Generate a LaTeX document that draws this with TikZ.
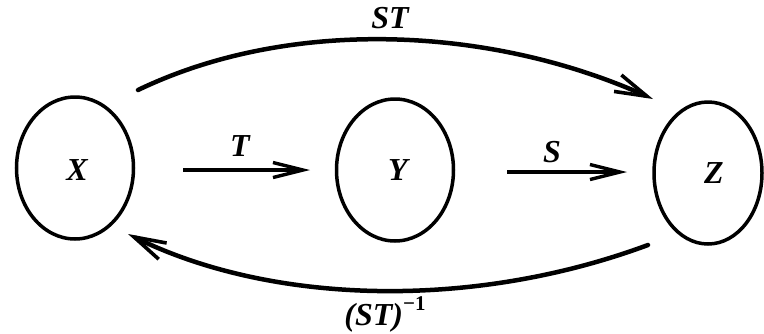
\documentclass[tikz,border=0pt]{standalone}
\usepackage{fontspec}
\setmainfont{Liberation Serif}
\usetikzlibrary{shapes.geometric,arrows.meta}
\tikzset{
  setel/.style={ellipse, draw, line width=3.5pt, inner sep=0pt, minimum width=117pt, minimum height=142pt},
  lbl/.style={font=\fontsize{32}{34}\selectfont\bfseries\itshape, inner sep=0pt},
  maparrow/.style={line width=3.2pt, -{Straight Barb[length=30pt,width=15pt,line width=3.4pt]}},
  bigarc/.style={line width=4.5pt, line cap=round, -{Straight Barb[length=32pt,width=18pt,line width=3.6pt]}}
}
\begin{document}
\begin{tikzpicture}[x=1pt,y=-1pt]
\useasboundingbox (0,0) rectangle (764,333);
\node[setel] (X) at (75,168) {};
\node[setel] (Y) at (395,170) {};
\node[setel, minimum width=108pt] (Z) at (708,173) {};
\node[lbl] (lx) at (77,170) {X};
\node[lbl] (ly) at (398,170) {Y};
\node[lbl] (lz) at (714,173) {Z};
\coordinate (ta) at (183,170);
\coordinate (tb) at (310,170);
\coordinate (sa) at (507,172);
\coordinate (sb) at (627,172);
\draw[maparrow] (ta) -- (tb);
\draw[maparrow] (sa) -- (sb);
\node[lbl] (lt) at (240,146) {T};
\node[lbl] (ls) at (552,152) {S};
\coordinate (ua) at (138,90);
\coordinate (ub) at (653,99);
\draw[bigarc] (ua) .. controls (290,17) and (490,26) .. (ub);
\node[lbl] (lst) at (390,18) {ST};
\coordinate (va) at (648,245);
\coordinate (vb) at (128,234);
\draw[bigarc] (va) .. controls (470,311) and (270,304) .. (vb);
\node[lbl, anchor=base] (linv) at (385,325) {(ST)\raisebox{0.45em}{\fontsize{21}{22}\selectfont\upshape −1}};
\end{tikzpicture}
\end{document}
